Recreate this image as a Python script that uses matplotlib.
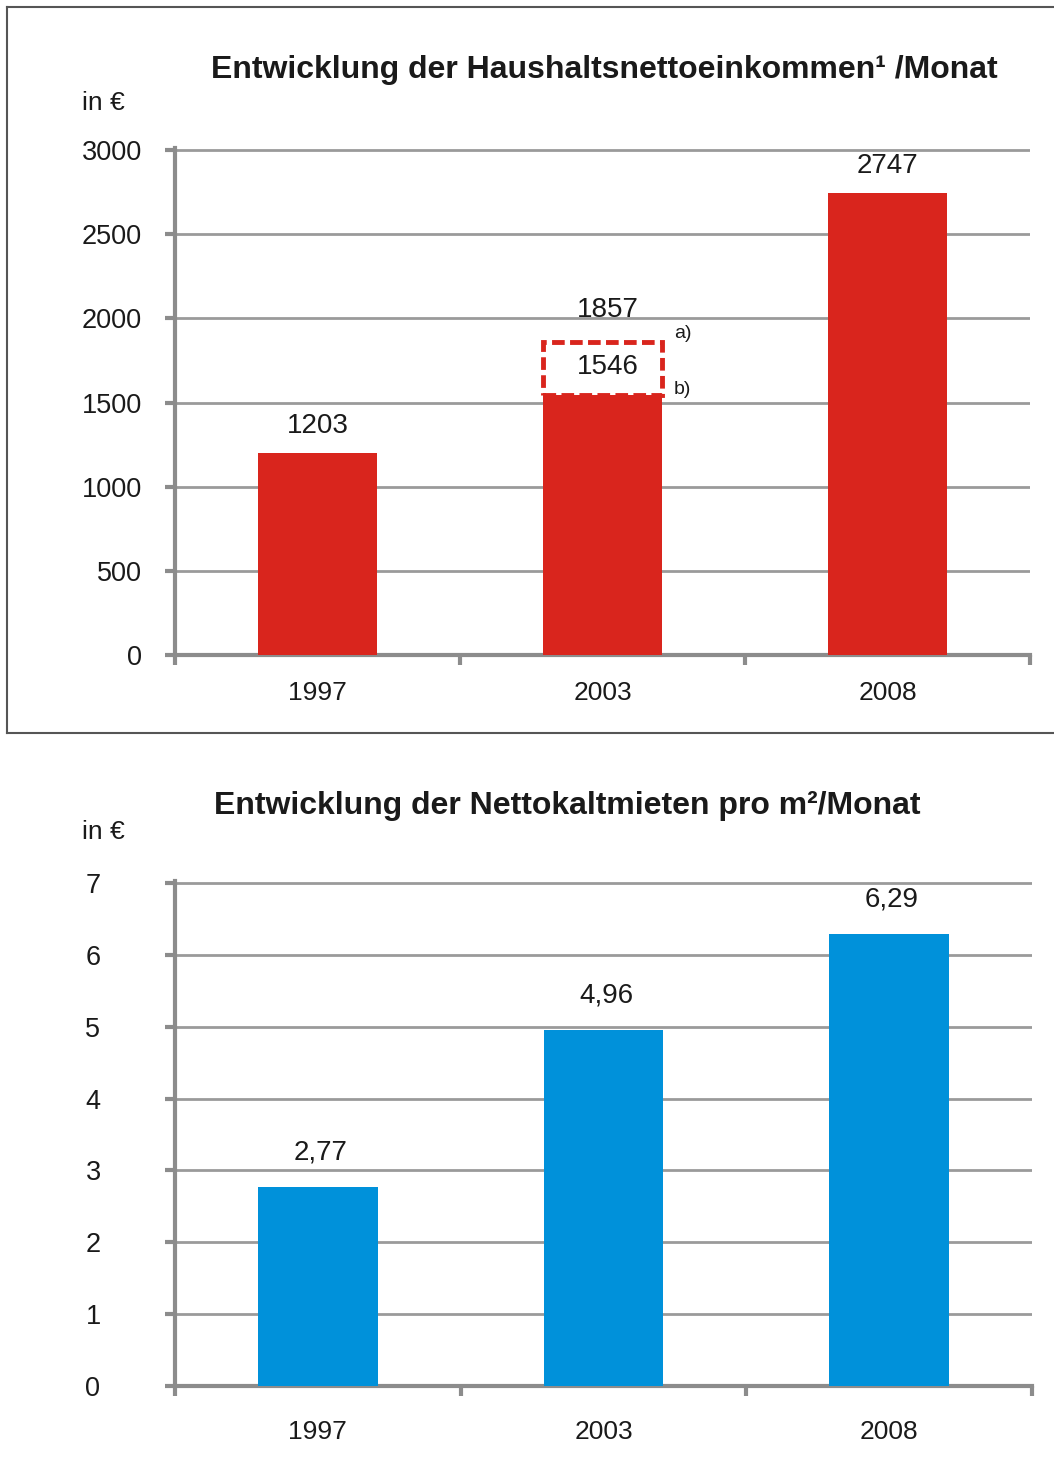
import matplotlib
matplotlib.use("Agg")
import matplotlib.pyplot as plt
from matplotlib.lines import Line2D
from matplotlib.patches import Rectangle

plt.rcParams['font.family'] = ['Liberation Sans', 'DejaVu Sans']

#### Data ####
years = ["1997", "2003", "2008"]
income = [1203, 1546, 2747]
income_alt_2003 = 1857          # a) upper value for 2003 (dashed)
income_labels = ["1203", "1546", "2747"]
rent = [2.77, 4.96, 6.29]
rent_labels = ["2,77", "4,96", "6,29"]

RED = "#d9251d"
BLUE = "#0091da"
AXC = "#8c8c8c"
GRIDC = "#9a9a9a"
TXT = "#1a1a1a"

fig = plt.figure(figsize=(10.54, 14.7), dpi=100)
W, H = 1054, 1470


def px(x, y):
    return x / W, 1 - y / H


def style_axes(ax, ymax, step):
    ax.set_xlim(-0.5, 2.5)
    ax.set_ylim(0, ymax * 1.004)
    ax.set_yticks([i * step for i in range(int(round(ymax / step)) + 1)])
    ax.set_xticks(range(len(years)))
    ax.set_xticklabels(years)
    ax.set_xticks([-0.5, 0.5, 1.5, 2.5], minor=True)
    for s in ["top", "right"]:
        ax.spines[s].set_visible(False)
    for s in ["left", "bottom"]:
        ax.spines[s].set_color(AXC)
        ax.spines[s].set_linewidth(3)
    ax.tick_params(axis="x", which="major", length=0, labelsize=19, labelcolor=TXT)
    ax.tick_params(axis="x", which="minor", length=7, width=3, color=AXC, direction="out")
    ax.tick_params(axis="y", length=7, width=3, color=AXC, labelsize=19.5, labelcolor=TXT)
    ax.grid(axis="y", color=GRIDC, linewidth=2)
    ax.set_axisbelow(True)


#### Top chart: income ####
l, b = px(175, 655)
r, t = px(1030, 148)
ax1 = fig.add_axes([l, b, r - l, t - b])
style_axes(ax1, 3000, 500)
ax1.tick_params(axis="y", pad=17)
ax1.tick_params(axis="x", which="major", pad=19)
bw = 0.42
ax1.bar(range(3), income, width=bw, color=RED, zorder=3)
# dashed extension for 2003 (a)
ax1.add_patch(Rectangle((1 - bw / 2, income[1]), bw, income_alt_2003 - income[1],
                        fill=False, edgecolor=RED, linestyle=(0, (2.6, 1.1)),
                        linewidth=3.5, zorder=4))
for i, (v, lab) in enumerate(zip(income, income_labels)):
    if i == 1:
        ax1.text(i + 0.02, (v + income_alt_2003) / 2 + 10, lab, ha="center", va="center",
                 fontsize=20, color=TXT, zorder=5)
    else:
        ax1.text(i, v + 160, lab, ha="center", va="center", fontsize=20, color=TXT)
ax1.text(1.02, income_alt_2003 + 195, str(income_alt_2003), ha="center", va="center",
         fontsize=20, color=TXT, zorder=5)
ax1.text(1 + bw / 2 + 0.04, 1911, "a)", ha="left", va="center", fontsize=14, color=TXT)
ax1.text(1 + bw / 2 + 0.04, 1580, "b)", ha="left", va="center", fontsize=14, color=TXT)

fig.text(*px(604, 70), "Entwicklung der Haushaltsnettoeinkommen\u00b9 /Monat",
         ha="center", va="center", fontsize=23, fontweight="bold", color=TXT)
fig.text(*px(82, 103), "in €", ha="left", va="center", fontsize=19, color=TXT)

#### Bottom chart: rent ####
l, b = px(175, 1386)
r, t = px(1032, 881)
ax2 = fig.add_axes([l, b, r - l, t - b])
style_axes(ax2, 7, 1)
for lab in ax2.get_yticklabels():
    lab.set_horizontalalignment("left")
ax2.tick_params(axis="y", pad=57.5)
ax2.tick_params(axis="x", which="major", pad=24.5)
ax2.bar(range(3), rent, width=bw, color=BLUE, zorder=3)
for i, (v, lab) in enumerate(zip(rent, rent_labels)):
    ax2.text(i + 0.01, v + 0.48, lab, ha="center", va="center", fontsize=20, color=TXT)

fig.text(*px(567, 806), "Entwicklung der Nettokaltmieten pro m²/Monat",
         ha="center", va="center", fontsize=23, fontweight="bold", color=TXT)
fig.text(*px(82, 832), "in €", ha="left", va="center", fontsize=19, color=TXT)

#### Frame lines ####
for xs, ys in [((7, W), (7, 7)), ((7, 7), (7, 733)), ((7, W), (733, 733))]:
    fig.add_artist(Line2D([x / W for x in xs], [1 - y / H for y in ys],
                          color="#555555", linewidth=1.5))

fig.savefig("out.png", dpi=100)
